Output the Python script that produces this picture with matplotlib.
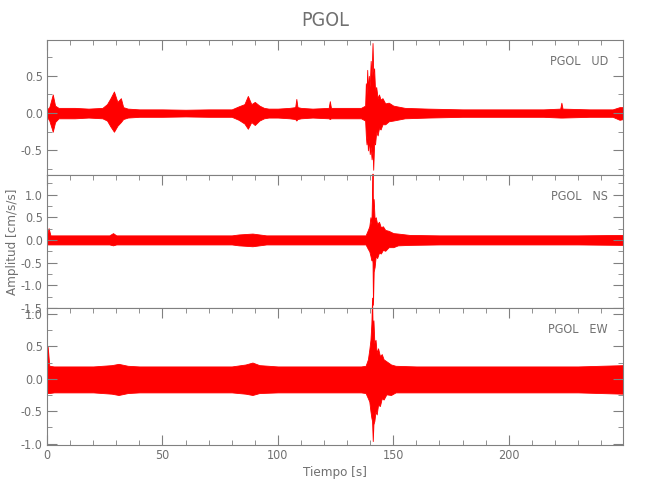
import matplotlib
matplotlib.use('Agg')
import matplotlib.pyplot as plt
from matplotlib.ticker import MultipleLocator

# Envelope of each trace (time [s], upper, lower)
ud_t = [0, 1, 2.5, 3.5, 5, 8, 12, 18, 24, 26, 27.5, 29, 30.5, 32, 33, 35, 40, 50, 60, 70,
        80, 83, 85.5, 87, 88.5, 90, 92, 94, 96, 100, 105, 107.5, 108, 108.5, 110, 115,
        122, 122.5, 123, 130, 136, 137.8, 138.1, 138.4, 138.7, 139.0, 139.4, 139.8, 140.2,
        140.6, 141.0, 141.3, 141.7, 142.1, 142.6, 143.2, 143.8, 144.5, 145.3, 146.5, 148, 150,
        155, 165, 180, 200, 215, 222.3, 222.8, 223.3, 235, 245, 248, 249.5]
ud_hi = [0.05, 0.08, 0.25, 0.1, 0.07, 0.07, 0.07, 0.06, 0.07, 0.12, 0.2, 0.29, 0.15, 0.2, 0.08, 0.06, 0.05, 0.05, 0.045, 0.05,
         0.05, 0.09, 0.12, 0.23, 0.12, 0.15, 0.1, 0.07, 0.06, 0.06, 0.07, 0.08, 0.19, 0.08, 0.07, 0.06,
         0.07, 0.16, 0.07, 0.07, 0.07, 0.1, 0.4, 0.25, 0.58, 0.3, 0.5, 0.35, 0.7,
         0.5, 0.94, 0.55, 0.6, 0.3, 0.35, 0.2, 0.25, 0.18, 0.2, 0.13, 0.14, 0.1,
         0.07, 0.06, 0.05, 0.05, 0.05, 0.06, 0.14, 0.06, 0.05, 0.05, 0.08, 0.08]
ud_lo = [-0.05, -0.1, -0.25, -0.12, -0.07, -0.07, -0.07, -0.06, -0.07, -0.1, -0.18, -0.25, -0.17, -0.12, -0.08, -0.06, -0.05, -0.05, -0.045, -0.05,
         -0.05, -0.09, -0.14, -0.21, -0.12, -0.16, -0.1, -0.07, -0.06, -0.06, -0.07, -0.08, -0.1, -0.08, -0.07, -0.06,
         -0.07, -0.08, -0.07, -0.07, -0.07, -0.1, -0.3, -0.42, -0.3, -0.5, -0.35, -0.55, -0.45,
         -0.62, -0.5, -0.76, -0.4, -0.42, -0.25, -0.3, -0.2, -0.22, -0.15, -0.15, -0.11, -0.1,
         -0.07, -0.06, -0.05, -0.05, -0.05, -0.06, -0.06, -0.06, -0.05, -0.05, -0.09, -0.08]

ns_t = [0, 0.7, 1.5, 3, 10, 20, 27, 28.6, 30, 40, 60, 80, 83, 86, 89, 92, 95, 100, 120,
        136, 138, 139, 139.6, 140.1, 140.5, 140.8, 141.0, 141.2, 141.5, 141.9, 142.4, 143,
        143.8, 144.6, 145.5, 146.5, 148, 150, 152, 157, 170, 200, 230, 249.5]
ns_hi = [0.1, 0.26, 0.1, 0.1, 0.1, 0.1, 0.1, 0.15, 0.1, 0.1, 0.1, 0.1, 0.12, 0.13, 0.14, 0.12, 0.1, 0.1, 0.1,
         0.1, 0.1, 0.22, 0.3, 0.5, 0.35, 1.0, 1.46, 0.7, 0.9, 0.45, 0.5, 0.35,
         0.4, 0.28, 0.3, 0.22, 0.2, 0.15, 0.14, 0.11, 0.1, 0.1, 0.1, 0.11]
ns_lo = [-0.1, -0.1, -0.1, -0.1, -0.1, -0.1, -0.1, -0.12, -0.1, -0.1, -0.1, -0.1, -0.12, -0.13, -0.14, -0.12, -0.1, -0.1, -0.1,
         -0.1, -0.1, -0.2, -0.25, -0.35, -0.45, -0.4, -0.5, -1.43, -0.7, -0.6, -0.35, -0.4,
         -0.28, -0.3, -0.22, -0.24, -0.16, -0.16, -0.12, -0.11, -0.1, -0.1, -0.1, -0.11]

ew_t = [0, 0.3, 1, 3, 10, 20, 28, 31, 35, 40, 60, 80, 86, 89, 92, 100, 120,
        136, 138, 139, 139.6, 140.1, 140.5, 140.8, 141.1, 141.4, 141.8, 142.3, 142.8, 143.4,
        144.2, 145, 145.8, 147, 149, 151, 160, 200, 230, 249.5]
ew_hi = [0.19, 0.5, 0.2, 0.19, 0.19, 0.19, 0.21, 0.23, 0.2, 0.19, 0.19, 0.19, 0.22, 0.25, 0.21, 0.19, 0.19,
         0.19, 0.2, 0.3, 0.45, 0.6, 0.85, 1.25, 0.7, 0.9, 0.55, 0.6, 0.4, 0.47,
         0.35, 0.38, 0.3, 0.27, 0.22, 0.2, 0.19, 0.19, 0.19, 0.21]
ew_lo = [-0.21, -0.22, -0.22, -0.21, -0.21, -0.21, -0.23, -0.25, -0.22, -0.21, -0.21, -0.21, -0.23, -0.25, -0.22, -0.21, -0.21,
         -0.21, -0.22, -0.3, -0.35, -0.5, -0.6, -0.65, -0.96, -0.7, -0.65, -0.5, -0.55, -0.4,
         -0.42, -0.3, -0.32, -0.24, -0.25, -0.21, -0.21, -0.21, -0.21, -0.23]

labels = ['PGOL   UD', 'PGOL   NS', 'PGOL   EW']
ylims = [(-0.83, 0.98), (-1.5, 1.43), (-1.02, 1.09)]

plt.rcParams['font.family'] = ['DejaVu Sans']
plt.rcParams['font.stretch'] = 'condensed'
gray = '#808080'
tgray = '#707070'

fig = plt.figure(figsize=(6.5, 5), dpi=100)
boxes = [[0.0723, 0.65, 0.8862, 0.27],
         [0.0723, 0.384, 0.8862, 0.266],
         [0.0723, 0.11, 0.8862, 0.274]]
traces = [(ud_t, ud_hi, ud_lo), (ns_t, ns_hi, ns_lo), (ew_t, ew_hi, ew_lo)]

for i, box in enumerate(boxes):
    ax = fig.add_axes(box)
    t, hi, lo = traces[i]
    ax.fill_between(t, lo, hi, color='red', edgecolor='red', lw=0.6, clip_on=(i == 0))
    ax.set_xlim(0, 249.5)
    ax.set_ylim(*ylims[i])
    ax.xaxis.set_major_locator(MultipleLocator(50))
    ax.xaxis.set_minor_locator(MultipleLocator(10))
    ax.yaxis.set_major_locator(MultipleLocator(0.5))
    ax.yaxis.set_minor_locator(MultipleLocator(0.25))
    ax.yaxis.set_major_formatter(plt.FormatStrFormatter('%.1f'))
    for s in ax.spines.values():
        s.set_color(gray)
        s.set_linewidth(0.8)
    ax.tick_params(which='both', direction='in', colors=gray, labelcolor=tgray,
                   labelsize=9, right=True, top=True, bottom=(i == 2), labelbottom=(i == 2))
    ax.tick_params(which='major', length=7, pad=3)
    ax.tick_params(which='minor', length=3.5)
    ax.text(0.974, 0.84, labels[i], transform=ax.transAxes, ha='right', va='center',
            color=tgray, fontsize=9)
    if i == 2:
        ax.set_xlabel('Tiempo [s]', color=tgray, fontsize=9.5, labelpad=3)

fig.text(0.019, 0.517, 'Amplitud [cm/s/s]', rotation=90, ha='center', va='center',
         color=tgray, fontsize=9.5)
fig.text(0.5, 0.958, 'PGOL', ha='center', va='center', color=tgray, fontsize=14)

plt.savefig('out.png', dpi=100)
